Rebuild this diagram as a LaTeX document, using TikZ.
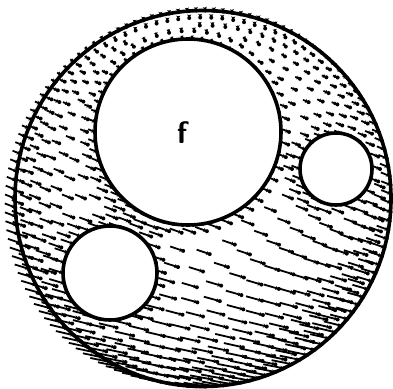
\documentclass[tikz,border=0pt]{standalone}
\usepackage{tikz}
\usetikzlibrary{arrows.meta}

% one field arrow: it ends on the mesh node, with a dot there
\newcommand{\fieldarrow}[2]{%
  \pgfmathsetmacro{\ayn}{(198.5-#2)/188}%
  \pgfmathsetmacro{\agap}{min(20,((\ayn-0.95)/0.15)*((\ayn-0.95)/0.15))}%
  \pgfmathsetmacro{\aang}{158+12*max(0,-\ayn)-68*exp(-\agap)}%
  \pgfmathsetmacro{\alen}{3+19*pow(max(0.001,(1-\ayn)/2),1.3)}%
  \pgfmathsetmacro{\tx}{#1+\alen*cos(\aang)}%
  \pgfmathsetmacro{\ty}{#2-\alen*sin(\aang)}%
  \draw[fieldline] (\tx,\ty) -- (#1,#2);%
  \fill (#1,#2) circle[radius=2];%
}

\begin{document}
\begin{tikzpicture}[
    x=1pt, y=-1pt,
    outerline/.style={circle, draw, line width=3.6pt, inner sep=0pt},
    hole/.style={circle, draw, fill=white, line width=3.6pt, inner sep=0pt},
    fieldline/.style={-{Stealth[length=3.6pt,width=4pt]}, line width=1.8pt}
]
\useasboundingbox (0,0) rectangle (393,388);

% Field on the rings of the disk
\foreach \r/\n [count=\k] in {188/131, 181/103, 173/85, 164/72, 154/60, 143/51, 131/43,
                              118/36, 104/29, 89/23, 73/18, 56/13, 38/8, 19/4} {
  \foreach \m in {1,...,\n} {
    \pgfmathsetmacro{\px}{203+\r*cos(360/\n*(\m+0.5*mod(\k,2)))}
    \pgfmathsetmacro{\py}{198.5+\r*sin(360/\n*(\m+0.5*mod(\k,2)))}
    \pgfmathtruncatemacro{\inside}{and(veclen(\px-188,\py-132)>107,and(veclen(\px-336,\py-169)>50,veclen(\px-110,\py-273)>61))}
    \ifnum\inside=1 \fieldarrow{\px}{\py}\fi
  }
}

% Field on the rings round the holes
\foreach \cx/\cy/\r/\n in {188/132/93/58, 188/132/101/50, 336/169/36/22, 336/169/44/22,
                           110/273/47/28, 110/273/55/26} {
  \foreach \m in {1,...,\n} {
    \pgfmathsetmacro{\px}{\cx+\r*cos(360/\n*\m)}
    \pgfmathsetmacro{\py}{\cy+\r*sin(360/\n*\m)}
    \pgfmathtruncatemacro{\inside}{veclen(\px-203,\py-198.5)<184}
    \ifnum\inside=1 \fieldarrow{\px}{\py}\fi
  }
}

% Outer boundary
\node[outerline, minimum size=376pt] (disk) at (203,198.5) {};

% Holes
\node[hole, minimum size=186pt] (fhole) at (188,132) {};
\node[hole, minimum size=72pt]  (rhole) at (336,169) {};
\node[hole, minimum size=94pt]  (lhole) at (110,273) {};

\node[font=\sffamily\bfseries\fontsize{31}{31}\selectfont] (flabel) at (182,133) {f};

\end{tikzpicture}
\end{document}
